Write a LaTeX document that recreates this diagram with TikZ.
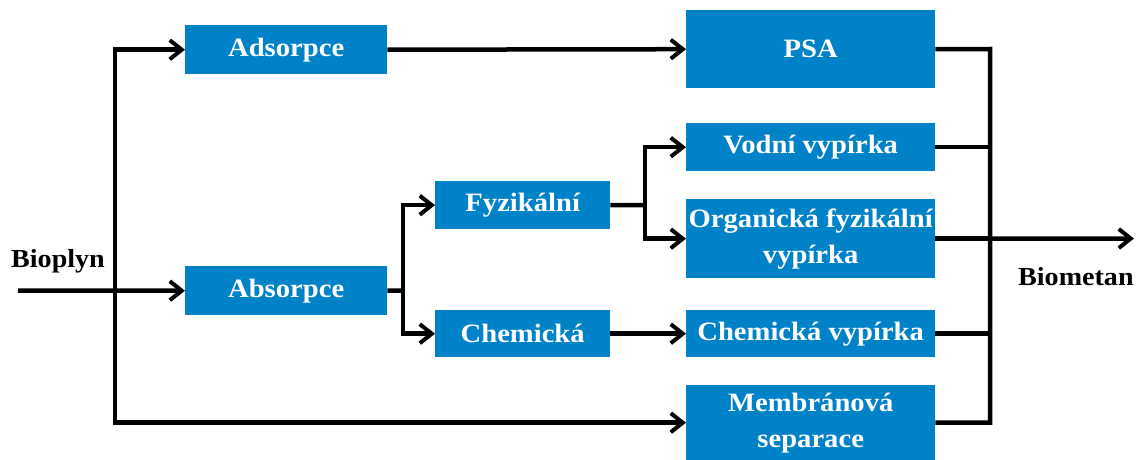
\documentclass[tikz,border=0pt]{standalone}
\usepackage{fontspec}
\setmainfont[FakeStretch=1.08]{Liberation Serif}
\usetikzlibrary{arrows.meta}
\definecolor{boxblue}{RGB}{0,130,200}
\tikzset{
  box/.style={fill=boxblue, text=white, anchor=north west, inner sep=0pt,
    align=center, font=\fontsize{26.5}{36}\selectfont\bfseries},
  line/.style={line width=4.5pt, black},
  arr/.style={line, -{Straight Barb[length=12pt,width=19pt,line width=4pt]}},
  lbl/.style={font=\fontsize{26}{30}\selectfont\bfseries, inner sep=0pt, anchor=base west}
}
\begin{document}
\begin{tikzpicture}[x=1pt,y=-1pt]
\useasboundingbox (0,0) rectangle (1136,460);
% boxes
\node[box, minimum width=202pt, minimum height=49pt] (ads) at (185,25) {Adsorpce};
\node[box, minimum width=202pt, minimum height=49pt] (abs) at (185,266) {Absorpce};
\node[box, minimum width=175pt, minimum height=48pt] (fyz) at (435,181) {Fyzikální};
\node[box, minimum width=175pt, minimum height=47pt] (chem) at (435,310) {Chemická};
\node[box, minimum width=249pt, minimum height=78pt] (psa) at (686,10) {PSA};
\node[box, minimum width=249pt, minimum height=48pt] (vod) at (686,123) {Vodní vypírka};
\node[box, minimum width=249pt, minimum height=79pt] (org) at (686,199) {Organická fyzikální\\vypírka};
\node[box, minimum width=249pt, minimum height=47pt] (chv) at (686,310) {Chemická vypírka};
\node[box, minimum width=249pt, minimum height=75pt] (mem) at (686,385) {Membránová\\separace};
% labels
\node[lbl] (bio) at (11,267) {Bioplyn};
\node[lbl] (biom) at (1018,285) {Biometan};
% coordinates
\coordinate (in) at (18,290.5);
\coordinate (lb) at (115,290.5);
\coordinate (s1) at (403,290.5);
\coordinate (s2) at (645,205);
\coordinate (rb) at (990,49);
\coordinate (out) at (1134,238.5);
% left side
\draw[arr] (in) -- (abs.west);
\draw[arr] (lb) |- (ads.west);
\draw[arr] (lb) |- (mem.west);
\draw[line] (abs.east) -- (s1);
\draw[arr] (s1) |- (fyz.west);
\draw[arr] (s1) |- (chem.west);
\draw[line] (fyz.east) -- (s2);
\draw[arr] (s2) |- (vod.west);
\draw[arr] (s2) |- (org.west);
\draw[arr] (ads.east) -- (psa.west);
\draw[arr] (chem.east) -- (chv.west);
% right bus
\draw[line] (psa.east) -- (rb) -- (rb |- mem.east) -- (mem.east);
\draw[line] (vod.east) -- (vod.east -| rb);
\draw[line] (chv.east) -- (chv.east -| rb);
\draw[line] (org.east) -- (org.east -| rb);
\draw[arr] (org.east -| rb) -- (out);
\end{tikzpicture}
\end{document}
